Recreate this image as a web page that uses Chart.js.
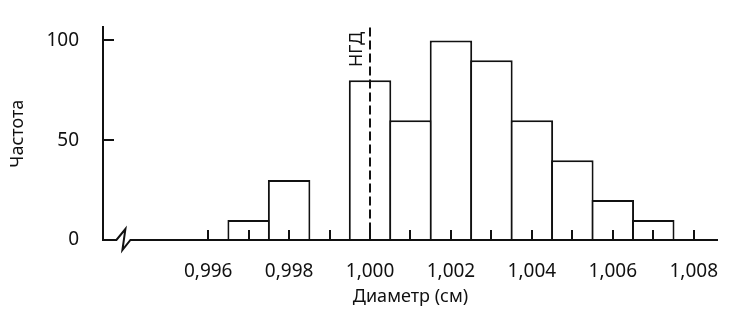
<!DOCTYPE html>
<html>
<head>
<meta charset="utf-8">
<script src="https://cdn.jsdelivr.net/npm/chart.js@4/dist/chart.umd.min.js"></script>
<style>
  html, body { margin: 0; background: #fff; }
  #wrap { width: 751px; height: 310px; }
</style>
</head>
<body>
<div id="wrap"><canvas id="histo"></canvas></div>
<script>
// Данные гистограммы (центры интервалов и частоты)
const binCenters = [0.997, 0.998, 1.000, 1.001, 1.002, 1.003, 1.004, 1.005, 1.006, 1.007];
const frequencies = [10, 30, 80, 60, 100, 90, 60, 40, 20, 10];
const xMinorTicks = [0.996, 0.997, 0.998, 0.999, 1.000, 1.001, 1.002, 1.003, 1.004, 1.005, 1.006, 1.007, 1.008];
const xLabelTicks = [0.996, 0.998, 1.000, 1.002, 1.004, 1.006, 1.008];
const yTicks = [0, 50, 100];
const nominalDiameter = 1.000;
const nominalLabel = 'НГД';
const xAxisBreak = 0.99388;

const ink = '#111';
const font = { family: '"Noto Sans", sans-serif', size: 18 };
const tickFont = { family: '"Noto Sans", sans-serif', size: 19 };

// оси с внутренними делениями, разрыв оси X, линия НГД
const decorPlugin = {
  id: 'decor',
  afterDraw(chart) {
    const { ctx, chartArea, scales: { x, y } } = chart;
    const y0 = y.getPixelForValue(0);
    const bx = x.getPixelForValue(xAxisBreak);
    ctx.save();
    ctx.strokeStyle = ink;
    ctx.lineWidth = 2;
    ctx.lineJoin = 'miter';

    // ось X с разрывом
    ctx.beginPath();
    ctx.moveTo(chartArea.left, y0);
    ctx.lineTo(bx - 6, y0);
    ctx.lineTo(bx + 3, y0 - 11);
    ctx.lineTo(bx, y0 + 10);
    ctx.lineTo(bx + 8, y0);
    ctx.lineTo(chartArea.right, y0);
    ctx.stroke();

    // деления X
    ctx.beginPath();
    xMinorTicks.forEach(v => {
      const px = Math.round(x.getPixelForValue(v));
      ctx.moveTo(px, y0);
      ctx.lineTo(px, y0 - 10);
    });
    // деления Y
    yTicks.forEach(v => {
      if (v === 0) return;
      const py = Math.round(y.getPixelForValue(v));
      ctx.moveTo(chartArea.left, py);
      ctx.lineTo(chartArea.left + 11, py);
    });
    ctx.stroke();

    // пунктир НГД
    const nx = Math.round(x.getPixelForValue(nominalDiameter));
    ctx.setLineDash([9, 4]);
    ctx.beginPath();
    ctx.moveTo(nx, chartArea.top);
    ctx.lineTo(nx, y0);
    ctx.stroke();
    ctx.setLineDash([]);

    ctx.translate(nx - 13, chartArea.top + 22);
    ctx.rotate(-Math.PI / 2);
    ctx.fillStyle = ink;
    ctx.font = `${font.size}px ${font.family}`;
    ctx.textAlign = 'center';
    ctx.textBaseline = 'middle';
    ctx.fillText(nominalLabel, 0, 0);
    ctx.restore();
  }
};

new Chart(document.getElementById('histo'), {
  type: 'bar',
  data: {
    datasets: [{
      data: binCenters.map((c, i) => ({ x: c, y: frequencies[i] })),
      backgroundColor: '#fff',
      borderColor: ink,
      borderWidth: 2,
      // чуть шире интервала, чтобы общие границы соседних столбцов совпали
      barPercentage: 1.05,
      categoryPercentage: 1
    }]
  },
  options: {
    responsive: true,
    maintainAspectRatio: false,
    animation: false,
    layout: { padding: { left: 0, right: 33, top: 27, bottom: 0 } },
    plugins: { legend: { display: false }, tooltip: { enabled: false } },
    scales: {
      x: {
        type: 'linear',
        offset: false,
        min: 0.9934,
        max: 1.0086,
        grid: { display: false },
        border: { display: false },
        afterBuildTicks: s => { s.ticks = xLabelTicks.map(v => ({ value: v })); },
        afterFit: s => { s.height = 70; },
        ticks: {
          color: ink,
          font: tickFont,
          padding: 12,
          maxRotation: 0,
          autoSkip: false,
          callback: v => v.toFixed(3).replace('.', ',')
        },
        title: { display: true, text: 'Диаметр (см)', color: ink, font, padding: { top: 0, bottom: 2 } }
      },
      y: {
        min: 0,
        max: 106.5,
        grid: { display: false },
        border: { display: true, color: ink, width: 2 },
        afterBuildTicks: s => { s.ticks = yTicks.map(v => ({ value: v })); },
        afterFit: s => { s.width = 103; },
        ticks: { color: ink, font: tickFont, padding: 16 },
        title: { display: true, text: 'Частота', color: ink, font, padding: { top: 7, bottom: 0 } }
      }
    }
  },
  plugins: [decorPlugin]
});
</script>
</body>
</html>
